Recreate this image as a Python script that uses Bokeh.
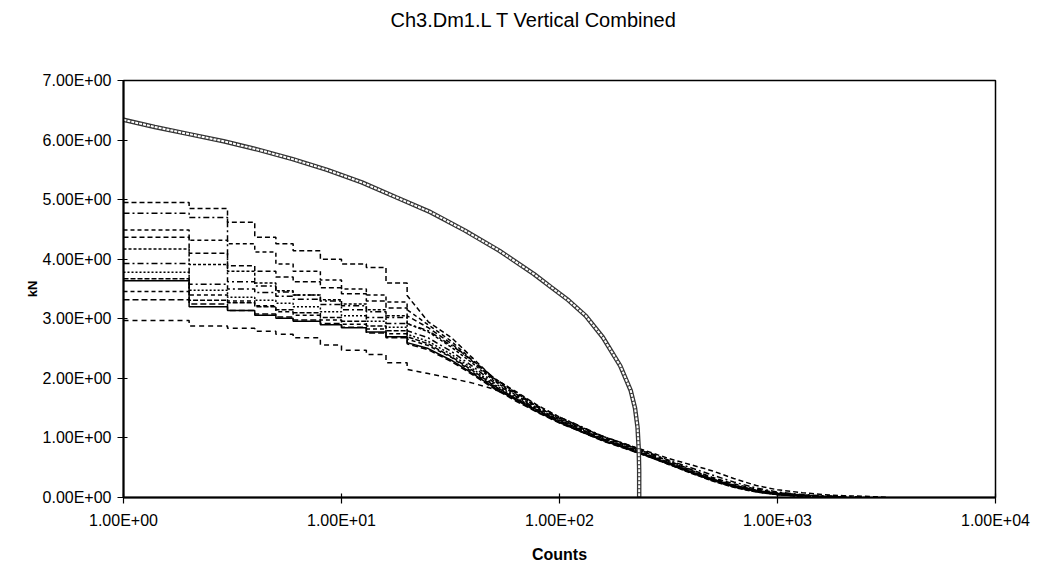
from bokeh.plotting import figure
from bokeh.models import Range1d, FixedTicker, Title
from bokeh.embed import file_html
from bokeh.resources import INLINE

# ---------------- data ----------------
title_text = "Ch3.Dm1.L T Vertical Combined"
x_ticks = [1, 10, 100, 1000, 10000]
x_tick_labels = ["1.00E+00", "1.00E+01", "1.00E+02", "1.00E+03", "1.00E+04"]
y_ticks = [0, 1, 2, 3, 4, 5, 6, 7]
y_tick_labels = ["0.00E+00", "1.00E+00", "2.00E+00", "3.00E+00", "4.00E+00",
                 "5.00E+00", "6.00E+00", "7.00E+00"]

# reference (circle) curve
circ_counts = [1, 1.39, 2.0, 2.88, 4.14, 5.97, 8.59, 12.4, 17.8, 25.6, 36.9, 53.1,
               76.4, 91.6, 110, 132, 158, 190, 212, 222, 228, 231, 232, 232]
circ_kn = [6.34, 6.22, 6.10, 5.98, 5.84, 5.68, 5.50, 5.29, 5.04, 4.79, 4.48, 4.14,
           3.75, 3.53, 3.31, 3.05, 2.69, 2.21, 1.80, 1.50, 1.18, 0.80, 0.45, 0.0]

# measured series: step part at low counts, then tail
step_counts = [1, 2, 3, 4, 5, 6, 8, 10, 13, 16, 20]
tail_counts = [25, 32, 40, 50, 63, 80, 100, 130, 160, 200, 250, 320, 400, 500,
               630, 800, 1000, 1300, 1600, 2000, 2500, 3200]

s1_step = [4.95, 4.85, 4.62, 4.37, 4.26, 4.14, 4.00, 3.92, 3.86, 3.60, 3.39]
s1_tail = [2.95, 2.68, 2.34, 2.00, 1.78, 1.54, 1.35, 1.16, 1.01, 0.89, 0.76, 0.61,
           0.47, 0.34, 0.23, 0.14, 0.08, 0.04, 0.02, 0.01]
s2_step = [4.77, 4.70, 3.62, 3.55, 3.45, 3.40, 3.30, 3.22, 3.12, 3.02, 2.92]
s2_tail = [2.80, 2.55, 2.30, 2.00, 1.76, 1.53, 1.35, 1.17, 1.02, 0.90, 0.77, 0.62,
           0.50, 0.38, 0.26, 0.16, 0.09, 0.05, 0.03, 0.02, 0.01]
s3_step = [4.49, 4.32, 4.26, 4.12, 3.92, 3.80, 3.65, 3.50, 3.40, 3.28, 3.15]
s3_tail = [2.90, 2.62, 2.30, 2.01, 1.76, 1.51, 1.32, 1.14, 1.00, 0.88, 0.75, 0.60,
           0.46, 0.33, 0.21, 0.12, 0.07, 0.03, 0.01]
s4_step = [4.37, 4.10, 3.89, 3.80, 3.70, 3.62, 3.52, 3.42, 3.30, 3.18, 3.05]
s4_tail = [2.85, 2.58, 2.28, 1.98, 1.74, 1.51, 1.33, 1.15, 1.02, 0.90, 0.78, 0.65,
           0.55, 0.45, 0.32, 0.20, 0.13, 0.08, 0.05, 0.03, 0.02, 0.005]
s5_step = [4.17, 3.91, 3.80, 3.60, 3.47, 3.40, 3.32, 3.25, 3.15, 3.05, 2.92]
s5_tail = [2.78, 2.52, 2.25, 1.96, 1.72, 1.49, 1.30, 1.12, 0.98, 0.86, 0.73, 0.58,
           0.44, 0.31, 0.20, 0.11, 0.06, 0.03, 0.01]
s6_step = [3.93, 3.58, 3.50, 3.44, 3.38, 3.33, 3.24, 3.15, 3.02, 2.92, 2.80]
s6_tail = [2.68, 2.45, 2.20, 1.93, 1.70, 1.47, 1.29, 1.11, 0.97, 0.85, 0.72, 0.57,
           0.43, 0.30, 0.19, 0.10, 0.05, 0.02]
s7_step = [3.78, 3.48, 3.36, 3.31, 3.26, 3.20, 3.12, 3.05, 2.96, 2.86, 2.74]
s7_tail = [2.62, 2.40, 2.16, 1.90, 1.68, 1.46, 1.28, 1.10, 0.96, 0.84, 0.71, 0.56,
           0.42, 0.29, 0.18, 0.10, 0.05, 0.02, 0.01]
s8_step = [3.67, 3.31, 3.27, 3.20, 3.15, 3.10, 3.02, 2.96, 2.88, 2.80, 2.70]
s8_tail = [2.58, 2.36, 2.13, 1.88, 1.66, 1.45, 1.27, 1.09, 0.95, 0.83, 0.70, 0.55,
           0.41, 0.28, 0.17, 0.09, 0.05, 0.02]
s9_step = [3.64, 3.20, 3.14, 3.06, 3.01, 2.96, 2.90, 2.85, 2.78, 2.70, 2.60]
s9_tail = [2.50, 2.30, 2.08, 1.85, 1.64, 1.43, 1.26, 1.08, 0.95, 0.83, 0.71, 0.56,
           0.43, 0.31, 0.20, 0.12, 0.07, 0.04, 0.02, 0.01]
s10_step = [3.46, 3.40, 3.30, 3.22, 3.12, 3.06, 2.98, 2.91, 2.83, 2.75, 2.66]
s10_tail = [2.55, 2.35, 2.10, 1.87, 1.66, 1.46, 1.30, 1.12, 0.98, 0.86, 0.73, 0.58,
            0.44, 0.31, 0.19, 0.10, 0.05, 0.02]
s11_step = [3.32, 3.25, 3.14, 3.08, 3.03, 2.98, 2.92, 2.86, 2.76, 2.68, 2.58]
s11_tail = [2.48, 2.28, 2.06, 1.83, 1.62, 1.42, 1.25, 1.08, 0.94, 0.82, 0.70, 0.55,
            0.42, 0.29, 0.18, 0.10, 0.05, 0.03, 0.01]
s12_step = [2.97, 2.88, 2.84, 2.79, 2.74, 2.68, 2.56, 2.47, 2.40, 2.26, 2.15]
s12_tail = [2.08, 2.00, 1.92, 1.82, 1.66, 1.45, 1.27, 1.10, 0.96, 0.84, 0.71, 0.56,
            0.42, 0.29, 0.18, 0.10, 0.05, 0.02]

series = [
    (s1_step, s1_tail, "5 3"),
    (s2_step, s2_tail, "6 3 2 3"),
    (s3_step, s3_tail, "4 3"),
    (s4_step, s4_tail, "5 3"),
    (s5_step, s5_tail, "3 2"),
    (s6_step, s6_tail, "6 3 2 3"),
    (s7_step, s7_tail, "2 2"),
    (s8_step, s8_tail, "5 2"),
    (s9_step, s9_tail, "solid"),
    (s10_step, s10_tail, "4 3"),
    (s11_step, s11_tail, "6 3"),
    (s12_step, s12_tail, "5 4"),
]

# ---------------- figure ----------------
p = figure(width=1040, height=569, x_axis_type="log",
           x_range=Range1d(1, 10000), y_range=Range1d(0, 7),
           output_backend="svg", toolbar_location=None,
           min_border_left=123, min_border_right=45,
           min_border_top=80, min_border_bottom=72)
p.title_location = None

# spacer (closest to the frame) then the visible title above it
spacer = Title(text=" ", text_font_size="1px", standoff=47)
p.add_layout(spacer, "above")
main_title = Title(text=title_text, text_font="Liberation Sans",
                   text_font_size="20px", text_font_style="normal",
                   text_color="black", align="left", offset=267,
                   standoff=0, vertical_align="bottom")
p.add_layout(main_title, "above")

p.background_fill_color = "white"
p.border_fill_color = "white"
p.outline_line_color = "black"
p.outline_line_width = 1.5
p.xgrid.grid_line_color = None
p.ygrid.grid_line_color = None

for ax in (p.xaxis, p.yaxis):
    ax.axis_line_width = 2
    ax.axis_line_color = "black"
    ax.major_tick_line_color = "black"
    ax.major_tick_line_width = 1.2
    ax.major_tick_in = 4
    ax.major_tick_out = 6
    ax.minor_tick_line_color = None
    ax.major_label_text_font = "Liberation Sans"
    ax.major_label_text_font_size = "16px"
    ax.major_label_text_color = "black"
    ax.axis_label_text_font = "Liberation Sans"
    ax.axis_label_text_font_style = "bold"
    ax.axis_label_text_color = "black"

p.xaxis.ticker = FixedTicker(ticks=x_ticks)
p.xaxis.major_label_overrides = {t: l for t, l in zip(x_ticks, x_tick_labels)}
p.yaxis.ticker = FixedTicker(ticks=y_ticks)
p.yaxis.major_label_overrides = {t: l for t, l in zip(y_ticks, y_tick_labels)}
p.xaxis.major_label_standoff = 8
p.yaxis.major_label_standoff = 6
p.xaxis.axis_label = "Counts"
p.xaxis.axis_label_text_font_size = "16px"
p.xaxis.axis_label_standoff = 14
p.yaxis.axis_label = "kN"
p.yaxis.axis_label_text_font_size = "13px"
p.yaxis.axis_label_standoff = 0

# measured step series
for st, tl, dash in series:
    xs, ys = [], []
    n = len(step_counts)
    for i in range(n - 1):
        xs += [step_counts[i], step_counts[i + 1]]
        ys += [st[i], st[i]]
    xs.append(step_counts[-1])
    ys.append(st[-1])
    xs += tail_counts[:len(tl)]
    ys += tl
    p.line(xs, ys, line_color="black", line_width=1.5, line_dash=dash)

# reference curve drawn as chain of hollow circles
p.line(circ_counts, circ_kn, line_color="#333333", line_width=4.5)
p.line(circ_counts, circ_kn, line_color="white", line_width=2, line_dash="3 1")

open("out.html", "w").write(file_html(p, INLINE))
